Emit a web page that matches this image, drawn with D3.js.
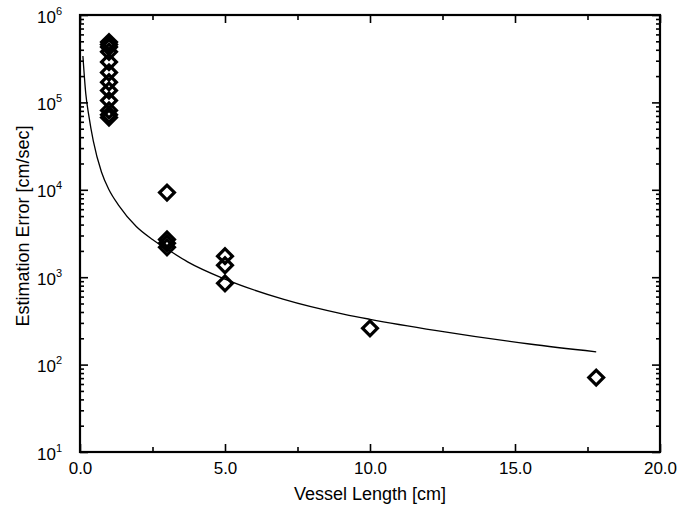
<!DOCTYPE html>
<html>
<head>
<meta charset="utf-8">
<script src="https://cdn.jsdelivr.net/npm/d3@7"></script>
<style>
  html, body { margin: 0; padding: 0; background: #fff; }
  svg { display: block; font-family: "Liberation Sans", Arial, Helvetica, sans-serif; }
</style>
</head>
<body>
<svg id="chart" width="678" height="518"></svg>
<script>
// ---- data ----
const pointLengths = [1, 1, 1, 1, 1, 1, 1, 1, 1, 1, 1, 1, 3, 3, 3, 3, 5, 5, 5, 10, 17.8];
const pointErrors  = [4.9e5, 4.6e5, 4.3e5, 3.8e5, 2.9e5, 2.2e5, 1.7e5, 1.37e5, 1.05e5, 8.1e4, 7.2e4, 6.7e4,
                      9.3e3, 2.7e3, 2.45e3, 2.2e3, 1.74e3, 1.37e3, 850, 260, 71];
const curveLengths = [0.1, 0.2, 0.3, 0.46, 0.74, 1.0, 1.34, 1.94, 2.5, 3.0, 3.71, 5.0, 7.0, 9.12, 10.0, 12.3, 15.5, 17.8];
const curveErrors  = [3.4e5, 1.25e5, 7.2e4, 3.6e4, 1.6e4, 1.0e4, 6.6e3, 3.8e3, 2.7e3, 2.1e3, 1.5e3, 950, 560, 376, 330, 245, 172, 140];
const xMajorTicks = [0, 5, 10, 15, 20];
const xMinorTicks = [2.5, 7.5, 12.5, 17.5];
const yMajorTicks = [10, 100, 1000, 10000, 100000, 1000000];
const yExponents  = ["1", "2", "3", "4", "5", "6"];
const xTitle = "Vessel Length [cm]";
const yTitle = "Estimation Error [cm/sec]";

// ---- layout ----
const L = 80, R = 660, T = 15, B = 452;
const svg = d3.select("#chart");
const x = d3.scaleLinear().domain([0, 20]).range([L, R]);
const y = d3.scaleLog().domain([10, 1e6]).range([B, T]);

const yMinorTicks = [];
for (let d = 10; d < 1e6; d *= 10) for (let k = 2; k <= 9; k++) yMinorTicks.push(d * k);

function styleAxis(g) {
  g.select(".domain").remove();
  g.selectAll(".tick line").attr("stroke", "#000").attr("stroke-width", 1.6);
}

// bottom axis
svg.append("g").attr("transform", `translate(0,${B})`)
  .call(d3.axisBottom(x).tickValues(xMajorTicks).tickSize(-8).tickPadding(10).tickFormat(d3.format(".1f")))
  .call(styleAxis)
  .call(g => g.selectAll("text").attr("font-size", 17).attr("fill", "#000").attr("font-family", "Liberation Sans, Arial, sans-serif"));
svg.append("g").attr("transform", `translate(0,${B})`)
  .call(d3.axisBottom(x).tickValues(xMinorTicks).tickSize(-5).tickFormat(""))
  .call(styleAxis);
// top axis
svg.append("g").attr("transform", `translate(0,${T})`)
  .call(d3.axisTop(x).tickValues(xMajorTicks).tickSize(-8).tickFormat(""))
  .call(styleAxis);
svg.append("g").attr("transform", `translate(0,${T})`)
  .call(d3.axisTop(x).tickValues(xMinorTicks).tickSize(-5).tickFormat(""))
  .call(styleAxis);

// left axis
const leftAxis = svg.append("g").attr("transform", `translate(${L},0)`)
  .call(d3.axisLeft(y).tickValues(yMajorTicks).tickSize(-8).tickFormat(""))
  .call(styleAxis);
leftAxis.selectAll(".tick").each(function(d, i) {
  const t = d3.select(this).append("text")
    .attr("x", -18).attr("y", 7).attr("text-anchor", "end")
    .attr("fill", "#000").attr("font-size", 17)
    .attr("font-family", "Liberation Sans, Arial, sans-serif");
  t.append("tspan").text("10");
  t.append("tspan").attr("dy", -8).attr("font-size", 11).text(yExponents[i]);
});
svg.append("g").attr("transform", `translate(${L},0)`)
  .call(d3.axisLeft(y).tickValues(yMinorTicks).tickSize(-4).tickFormat(""))
  .call(styleAxis);
// right axis
svg.append("g").attr("transform", `translate(${R},0)`)
  .call(d3.axisRight(y).tickValues(yMajorTicks).tickSize(-8).tickFormat(""))
  .call(styleAxis);
svg.append("g").attr("transform", `translate(${R},0)`)
  .call(d3.axisRight(y).tickValues(yMinorTicks).tickSize(-4).tickFormat(""))
  .call(styleAxis);

// frame
svg.append("rect").attr("x", L).attr("y", T).attr("width", R - L).attr("height", B - T)
  .attr("fill", "none").attr("stroke", "#000").attr("stroke-width", 2.2);

// curve
const curveData = curveLengths.map((v, i) => [v, curveErrors[i]]);
svg.append("path").datum(curveData)
  .attr("fill", "none").attr("stroke", "#000").attr("stroke-width", 1.3)
  .attr("d", d3.line().x(d => x(d[0])).y(d => y(d[1])).curve(d3.curveMonotoneX));

// points (diamonds)
const pts = pointLengths.map((v, i) => [v, pointErrors[i]]);
const sym = d3.symbol().type(d3.symbolSquare).size(110);
svg.append("g").selectAll("path").data(pts).join("path")
  .attr("d", sym)
  .attr("transform", d => `translate(${x(d[0])},${y(d[1])}) rotate(45)`)
  .attr("fill", "none").attr("stroke", "#000").attr("stroke-width", 3.2);

// titles
svg.append("text").attr("x", (L + R) / 2).attr("y", 500).attr("text-anchor", "middle")
  .attr("font-size", 18).attr("fill", "#000").text(xTitle);
svg.append("text").attr("transform", `translate(29,226) rotate(-90)`)
  .attr("text-anchor", "middle").attr("font-size", 18).attr("fill", "#000").text(yTitle);
</script>
</body>
</html>
